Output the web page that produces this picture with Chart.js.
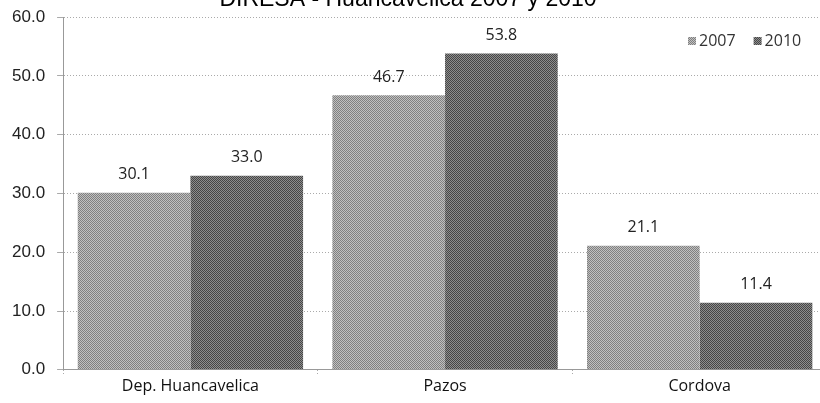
<!DOCTYPE html>
<html>
<head>
<meta charset="utf-8">
<script src="https://cdn.jsdelivr.net/npm/chart.js@4/dist/chart.umd.min.js"></script>
<style>
  html, body { margin: 0; padding: 0; background: #fff; overflow: hidden; width: 820px; height: 403px; }
  #wrap { position: absolute; left: 0; top: 0; width: 827px; height: 403px; }
</style>
</head>
<body>
<div id="wrap"><canvas id="c" width="827" height="403"></canvas></div>
<script>
const titleText = "DIRESA - Huancavelica 2007 y 2010";
const categories = ["Dep. Huancavelica", "Pazos", "Cordova"];
const seriesNames = ["2007", "2010"];
const values2007 = [30.1, 46.7, 21.1];
const values2010 = [33.0, 53.8, 11.4];
const yTicks = [0, 10, 20, 30, 40, 50, 60];

function makePattern(a, b) {
  const p = document.createElement('canvas');
  p.width = 2; p.height = 2;
  const g = p.getContext('2d');
  g.fillStyle = a; g.fillRect(0, 0, 2, 2);
  g.fillStyle = b; g.fillRect(0, 0, 1, 1); g.fillRect(1, 1, 1, 1);
  return document.getElementById('c').getContext('2d').createPattern(p, 'repeat');
}
const fill2007 = makePattern('#c0c0c0', '#808080');
const fill2010 = makePattern('#8e8e8e', '#464646');

const titlePlugin = {
  id: 'topTitle',
  afterDraw(chart) {
    const ctx = chart.ctx;
    ctx.save();
    ctx.font = '23px "Liberation Sans", Arial, sans-serif';
    ctx.fillStyle = '#000';
    ctx.textAlign = 'center';
    ctx.textBaseline = 'alphabetic';
    ctx.fillText(titleText, 408, 6);
    ctx.restore();
  }
};

const legendPlugin = {
  id: 'cornerLegend',
  afterDraw(chart) {
    const ctx = chart.ctx;
    ctx.save();
    ctx.font = '16px "Open Sans", sans-serif';
    ctx.textBaseline = 'middle';
    ctx.textAlign = 'left';
    let x = 688;
    const yc = 41;
    chart.data.datasets.forEach((ds) => {
      ctx.fillStyle = ds.backgroundColor;
      ctx.fillRect(x, yc - 4, 8, 8);
      ctx.fillStyle = '#333';
      ctx.fillText(ds.label, x + 11, yc);
      x += 11 + ctx.measureText(ds.label).width + 18;
    });
    ctx.restore();
  }
};

const labelPlugin = {
  id: 'valueLabels',
  afterDatasetsDraw(chart) {
    const ctx = chart.ctx;
    ctx.save();
    ctx.font = '16px "Open Sans", sans-serif';
    ctx.fillStyle = '#222';
    ctx.textAlign = 'center';
    ctx.textBaseline = 'middle';
    chart.data.datasets.forEach((ds, i) => {
      chart.getDatasetMeta(i).data.forEach((el, j) => {
        ctx.fillText(ds.data[j].toFixed(1), el.x, el.y - 18);
      });
    });
    ctx.restore();
  }
};

new Chart(document.getElementById('c'), {
  type: 'bar',
  data: {
    labels: categories,
    datasets: [
      { label: seriesNames[0], data: values2007, backgroundColor: fill2007, borderWidth: 0 },
      { label: seriesNames[1], data: values2010, backgroundColor: fill2010, borderWidth: 0 }
    ]
  },
  options: {
    responsive: false,
    animation: false,
    devicePixelRatio: 1,
    layout: { padding: { left: 0, right: 0, top: 0, bottom: 6 } },
    datasets: { bar: { categoryPercentage: 0.885, barPercentage: 1.0 } },
    plugins: {
      title: { display: false },
      tooltip: { enabled: false },
      legend: { display: false }
    },
    scales: {
      x: {
        grid: { display: true, drawOnChartArea: false, drawTicks: true, tickLength: 6, color: '#aaa', tickBorderDash: [1, 2] },
        border: { display: true, color: '#999', dash: [1, 2] },
        ticks: { color: '#111', font: { family: '"Open Sans", sans-serif', size: 16 }, padding: 1 }
      },
      y: {
        min: 0, max: 60,
        afterBuildTicks(scale) { scale.ticks = yTicks.map(v => ({ value: v })); },
        grid: { color: '#aaa', tickLength: 6, tickColor: '#aaa' },
        border: { display: true, color: '#999', dash: [1, 2] },
        ticks: { color: '#222', font: { family: '"Liberation Sans", Arial, sans-serif', size: 17, lineHeight: 0.6 }, padding: 12, callback: v => Number(v).toFixed(1) }
      }
    }
  },
  plugins: [titlePlugin, labelPlugin, legendPlugin]
});
</script>
</body>
</html>
